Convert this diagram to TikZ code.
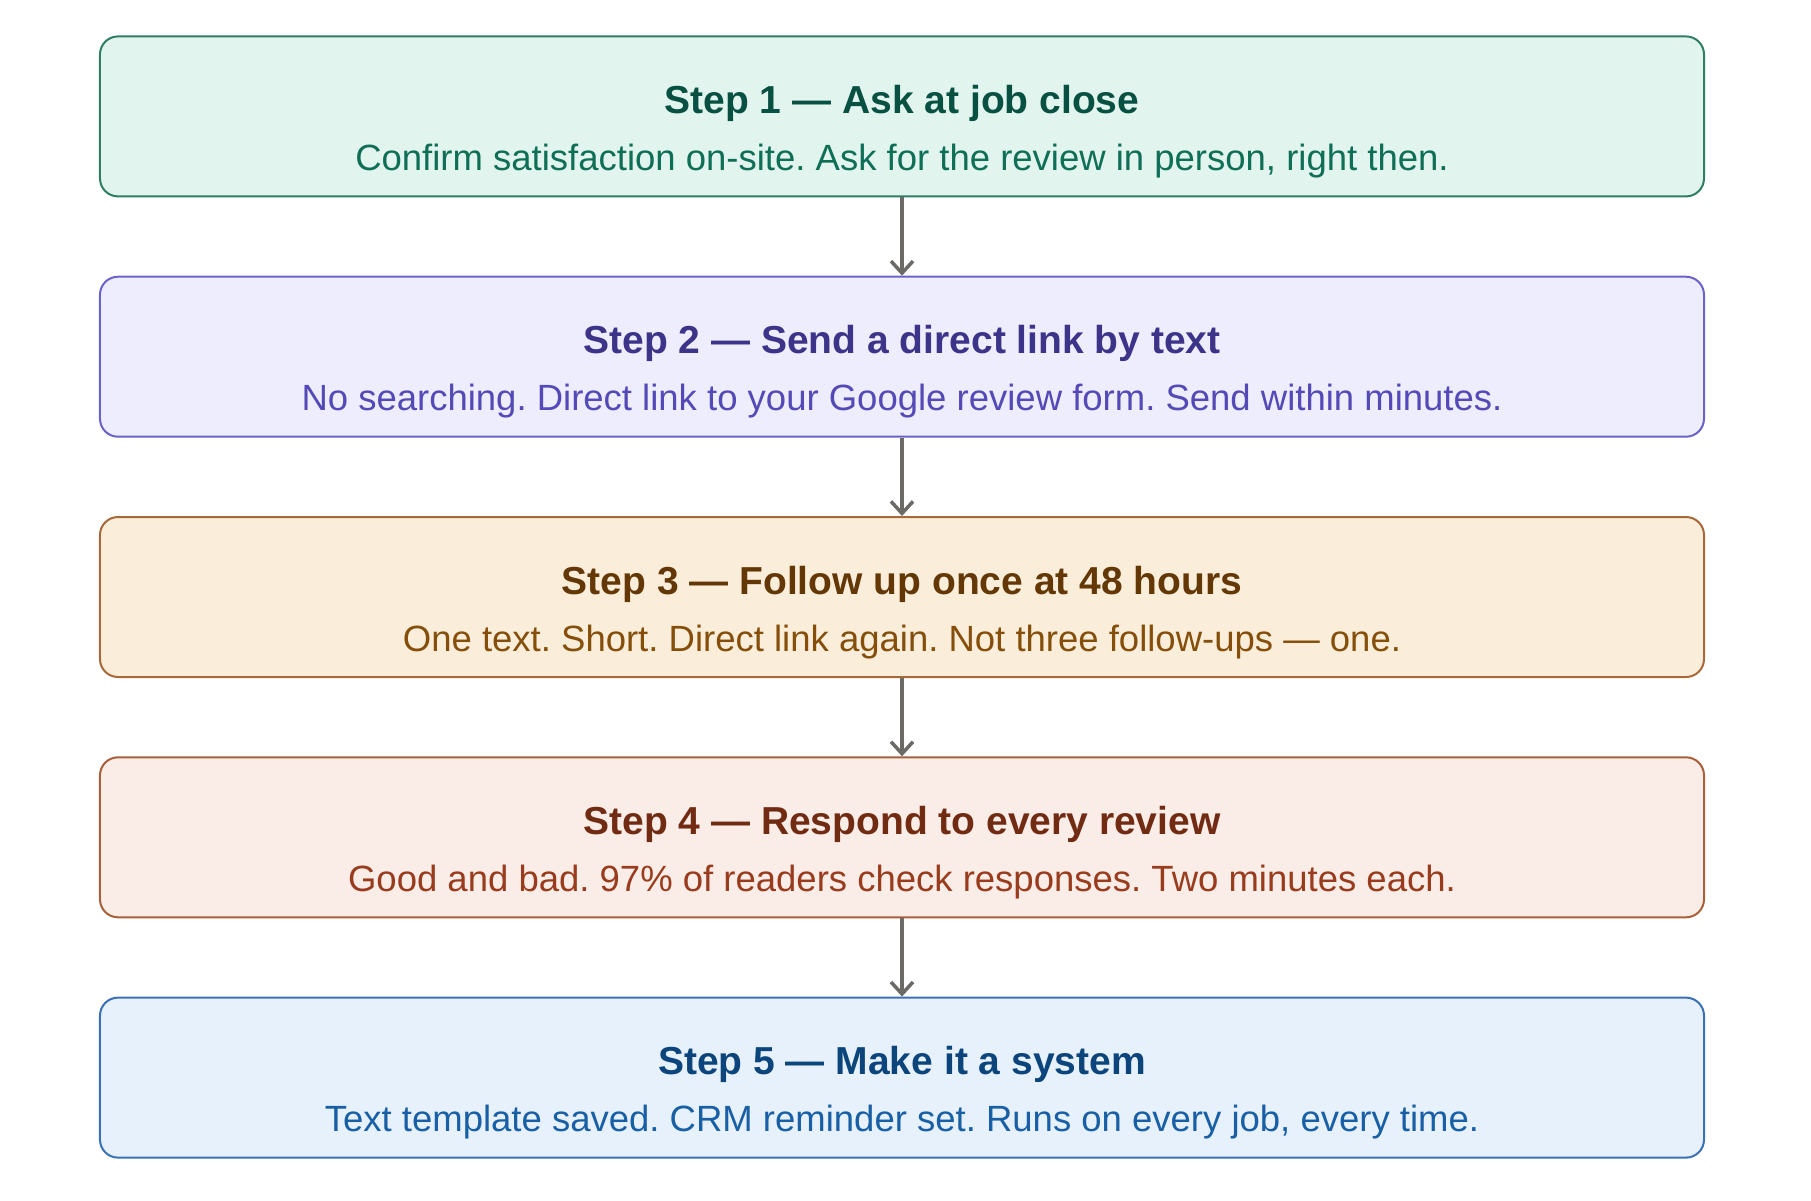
\documentclass[tikz,border=0pt]{standalone}
\usepackage{fontspec}
\setmainfont{Liberation Sans}
\usetikzlibrary{positioning, arrows.meta}
\frenchspacing

\definecolor{tealfill}{HTML}{E1F5EE}
\definecolor{tealline}{HTML}{2E7D64}
\definecolor{tealtitle}{HTML}{085041}
\definecolor{tealtext}{HTML}{0F6E56}
\definecolor{purplefill}{HTML}{EEEDFE}
\definecolor{purpleline}{HTML}{6A62C9}
\definecolor{purpletitle}{HTML}{3C3489}
\definecolor{purpletext}{HTML}{534AB7}
\definecolor{amberfill}{HTML}{FAEEDA}
\definecolor{amberline}{HTML}{A8683A}
\definecolor{ambertitle}{HTML}{633806}
\definecolor{ambertext}{HTML}{854F0B}
\definecolor{coralfill}{HTML}{FAECE7}
\definecolor{coralline}{HTML}{A8603A}
\definecolor{coraltitle}{HTML}{712B13}
\definecolor{coraltext}{HTML}{993C1D}
\definecolor{bluefill}{HTML}{E6F1FB}
\definecolor{blueline}{HTML}{3A70B5}
\definecolor{bluetitle}{HTML}{0C447C}
\definecolor{bluetext}{HTML}{185FA5}
\definecolor{arrowgray}{HTML}{6B6A66}

\newcommand{\steptext}[4]{{\fontsize{39}{57}\selectfont\bfseries\color{#1}#2}\\{\color{#3}#4}}

\begin{document}
\begin{tikzpicture}[x=1pt,y=-1pt]
		\tikzstyle{flow}=[draw=arrowgray, line width=3.5pt, -{Straight Barb[length=12pt,width=22pt]}]
		\useasboundingbox (0,0) rectangle (1811,1200);
		\matrix[nodes={rectangle, rounded corners=18pt, line width=2pt, minimum width=1604pt, inner sep=0pt, text height=134pt, text depth=26pt, align=center, font=\fontsize{36.5}{57}\selectfont},row sep=78.3pt] at (902,597)
		{
			\node[fill=tealfill, draw=tealline] (s1) {\steptext{tealtitle}{Step 1 — Ask at job close}{tealtext}{Confirm satisfaction on-site. Ask for the review in person, right then.}};\\
			\node[fill=purplefill, draw=purpleline] (s2) {\steptext{purpletitle}{Step 2 — Send a direct link by text}{purpletext}{No searching. Direct link to your Google review form. Send within minutes.}};\\
			\node[fill=amberfill, draw=amberline] (s3) {\steptext{ambertitle}{Step 3 — Follow up once at 48 hours}{ambertext}{One text. Short. Direct link again. Not three follow-ups — one.}};\\
			\node[fill=coralfill, draw=coralline] (s4) {\steptext{coraltitle}{Step 4 — Respond to every review}{coraltext}{Good and bad. 97\% of readers check responses. Two minutes each.}};\\
			\node[fill=bluefill, draw=blueline] (s5) {\steptext{bluetitle}{Step 5 — Make it a system}{bluetext}{Text template saved. CRM reminder set. Runs on every job, every time.}};\\
		};
		\foreach \a/\b in {s1/s2, s2/s3, s3/s4, s4/s5}
			\draw[flow] (\a) -- (\b);
		\end{tikzpicture}
\end{document}
